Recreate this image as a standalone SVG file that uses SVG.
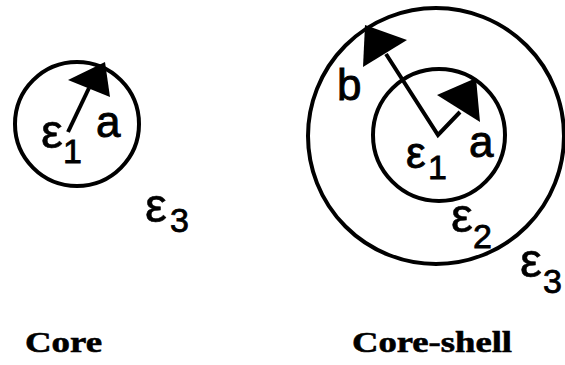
<svg xmlns="http://www.w3.org/2000/svg" width="565" height="365" viewBox="0 0 565 365">
<style>
.ring{fill:none;stroke:#000;stroke-width:4}
.shaft{stroke:#000;stroke-width:4;fill:none;stroke-linejoin:miter}
.head{fill:#000}
.sym{font-family:"Liberation Sans",Arial,sans-serif;font-size:44px;fill:#000;stroke:#000;stroke-width:0.9}
.eps{font-family:"Liberation Sans",Arial,sans-serif;font-size:49px;fill:#000;stroke:#000;stroke-width:0.6}
.sub{font-family:"Liberation Sans",Arial,sans-serif;font-size:34px;fill:#000;stroke:#000;stroke-width:0.8}
.title{font-family:"Liberation Serif","Times New Roman",serif;font-size:30px;font-weight:bold;fill:#000;stroke:#000;stroke-width:0.6}
</style>
<rect width="565" height="365" fill="#fff"/>
<g id="core">
<circle class="ring" cx="77" cy="124" r="62"/>
<text class="eps" x="41" y="148">ε</text>
<text class="sub" x="63" y="163">1</text>
<text class="sym" x="96" y="137">a</text>
<text class="eps" x="145" y="222">ε</text>
<text class="sub" x="170" y="232">3</text>
<text class="title" x="25" y="352" textLength="77" lengthAdjust="spacingAndGlyphs">Core</text>
</g>
<g id="coreshell">
<circle class="ring" cx="436" cy="136" r="128"/>
<circle class="ring" cx="439" cy="135" r="66"/>
<text class="sym" x="337" y="100">b</text>
<text class="sym" x="406" y="168">ε</text>
<text class="sub" x="428" y="179">1</text>
<text class="sym" x="469" y="157">a</text>
<text class="eps" x="451" y="232">ε</text>
<text class="sub" x="473" y="248">2</text>
<text class="eps" x="520" y="277">ε</text>
<text class="sub" x="543" y="293">3</text>
<text class="title" x="352" y="352" textLength="160" lengthAdjust="spacingAndGlyphs">Core-shell</text>
</g>
<g id="connectors">
<line class="shaft" x1="68" y1="132" x2="89" y2="88"/>
<polygon class="head" points="68,80 105,62 110,97"/>
<polyline class="shaft" points="386,54 438,135 460,112"/>
<polygon class="head" points="365,25 407,40 363,67"/>
<polygon class="head" points="437,95 476,78 480,122"/>
</g>
</svg>
